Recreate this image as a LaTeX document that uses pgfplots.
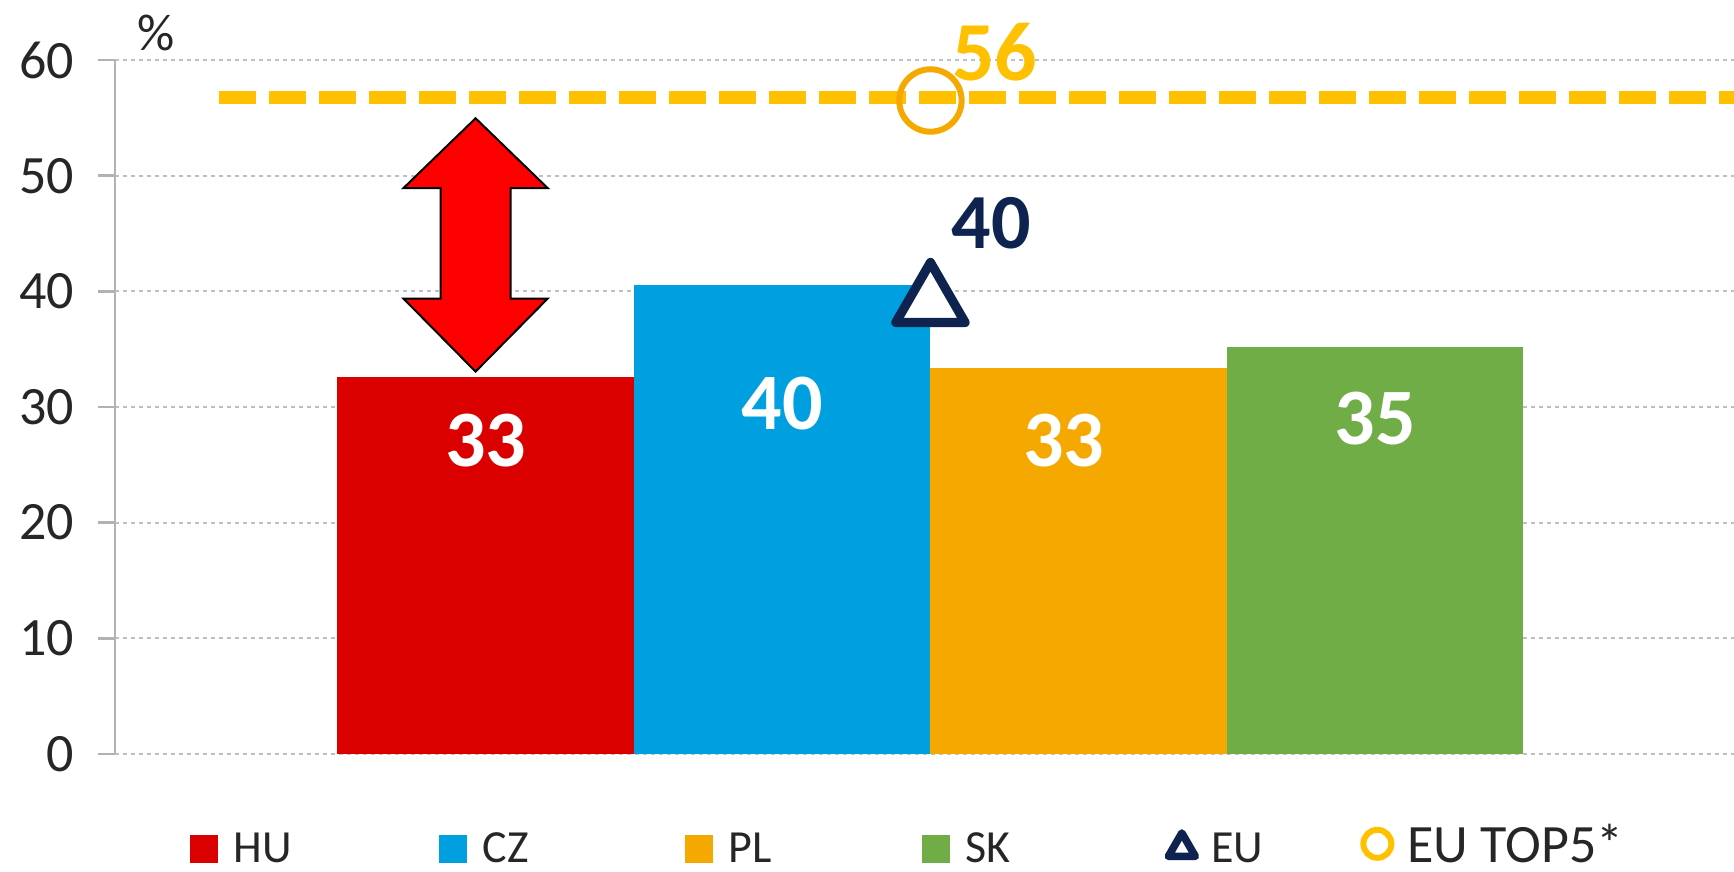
\documentclass[border=0pt]{standalone}
\usepackage{pgfplots}
\pgfplotsset{compat=1.18}
\usepackage{fontspec}
\setmainfont{Carlito}

\definecolor{huRed}{HTML}{DA0000}
\definecolor{czBlue}{HTML}{009FDF}
\definecolor{plOrange}{HTML}{F5A800}
\definecolor{skGreen}{HTML}{70AD47}
\definecolor{euNavy}{HTML}{0F2350}
\definecolor{topGold}{HTML}{FFC000}
\definecolor{gridGray}{HTML}{BFBFBF}
\definecolor{tickText}{HTML}{262626}

\pgfplotsset{
  barlegend/.style={legend image code/.code={\fill[##1] (0pt,-3.1pt) rectangle (7pt,3.9pt);}},
  marklegend/.style={legend image code/.code={\draw[##1] plot coordinates {(3.5pt,0.6pt)};}},
  barlabel/.style={nodes near coords, point meta=explicit symbolic,
    nodes near coords style={text=white, font=\bfseries\fontsize{20}{20}\selectfont, anchor=center, #1}},
}

\begin{document}
\begin{tikzpicture}
\begin{axis}[
  name=main,
  scale only axis,
  width=404.75pt, height=173.5pt,
  xmin=-1.25, xmax=4.21,
  ymin=0, ymax=60,
  axis x line=none,
  axis y line*=left,
  y axis line style={draw=gray!60, line width=0.7pt, -},
  ytick={0,10,...,60},
  tick align=outside,
  major tick length=4.25pt,
  ytick style={draw=gray!60, line width=0.7pt},
  ymajorgrids,
  grid style={gridGray, line width=0.5pt, dash pattern=on 1pt off 1pt},
  yticklabel style={font=\fontsize{13.5}{13.5}\selectfont, text=tickText, xshift=-2.5pt,
    /pgf/number format/assume math mode=true},
  clip=false,
  legend columns=6,
  legend cell align=left,
  legend style={
    at={(0.0463,-0.1398)}, anchor=west,
    draw=none, fill=none, inner sep=0pt, outer sep=0pt,
    column sep=0pt, row sep=0pt,
    font=\fontsize{11.5}{11.5}\selectfont, text=tickText,
    nodes={inner xsep=4pt, inner ysep=0pt},
    /tikz/every even column/.style={column sep=0pt},
    /tikz/every odd column/.style={column sep=0pt},
  },
]

% EU TOP5 reference line
\addplot[forget plot, topGold, line width=3.25pt, dash pattern=on 9.25pt off 3.25pt]
  coordinates {(-0.9,56.8) (4.21,56.8)};

\addplot[ybar, bar width=1, bar shift=0pt, fill=huRed, draw=none, barlegend,
  barlabel={yshift=-15.9pt}] coordinates {(0,32.6) [33]};
\addlegendentry{\makebox[47.2pt][l]{HU}}
\addplot[ybar, bar width=1, bar shift=0pt, fill=czBlue, draw=none, barlegend,
  barlabel={yshift=-29.6pt}] coordinates {(1,40.55) [40]};
\addlegendentry{\makebox[46.5pt][l]{CZ}}
\addplot[ybar, bar width=1, bar shift=0pt, fill=plOrange, draw=none, barlegend,
  barlabel={yshift=-18.2pt, xshift=-3.7pt}] coordinates {(2,33.4) [33]};
\addlegendentry{\makebox[44.2pt][l]{PL}}
\addplot[ybar, bar width=1, bar shift=0pt, fill=skGreen, draw=none, barlegend,
  barlabel={yshift=-17.9pt}] coordinates {(3,35.2) [35]};
\addlegendentry{\makebox[46.7pt][l]{SK}}

\addplot[only marks, mark=triangle*, mark size=10pt, marklegend,
  mark options={draw=euNavy, fill=white, line width=2.3pt, line join=round, yshift=-2.5pt},
  legend image post style={mark size=3.9pt, mark options={draw=euNavy, fill=white, line width=1.9pt, line join=round}}]
  coordinates {(1.5,39.9)};
\addlegendentry{\makebox[34pt][l]{EU}}
\addplot[only marks, mark=o, mark size=7.8pt, marklegend,
  mark options={draw=plOrange, line width=1.5pt},
  legend image post style={mark size=3.5pt, mark options={draw=topGold, line width=1.5pt, yshift=1.2pt}}]
  coordinates {(1.5,56.5)};
\addlegendentry{\raisebox{1.2pt}[\height][0pt]{\fontsize{13.5}{13.5}\selectfont EU TOP5*}}

% gap arrow
\draw[fill=red, draw=black, line width=0.5pt]
  (axis cs:-0.034,54.96) -- (axis cs:0.209,48.93) -- (axis cs:0.084,48.93)
  -- (axis cs:0.084,39.37) -- (axis cs:0.209,39.37) -- (axis cs:-0.034,33.06)
  -- (axis cs:-0.277,39.37) -- (axis cs:-0.152,39.37) -- (axis cs:-0.152,48.93)
  -- (axis cs:-0.277,48.93) -- cycle;

\node[text=topGold, font=\bfseries\fontsize{21}{21}\selectfont] at (axis cs:1.717,60.65) {56};
\node[text=euNavy, font=\bfseries\fontsize{19.5}{19.5}\selectfont] at (axis cs:1.705,45.9) {40};
\node[text=tickText, font=\fontsize{13}{13}\selectfont] at (axis cs:-1.11,62.3) {\%};

\end{axis}
\pgfresetboundingbox
\path[use as bounding box] ([xshift=-28.75pt, yshift=-29.5pt]main.south west)
  rectangle ([yshift=15pt]main.north east);
\end{tikzpicture}
\end{document}
